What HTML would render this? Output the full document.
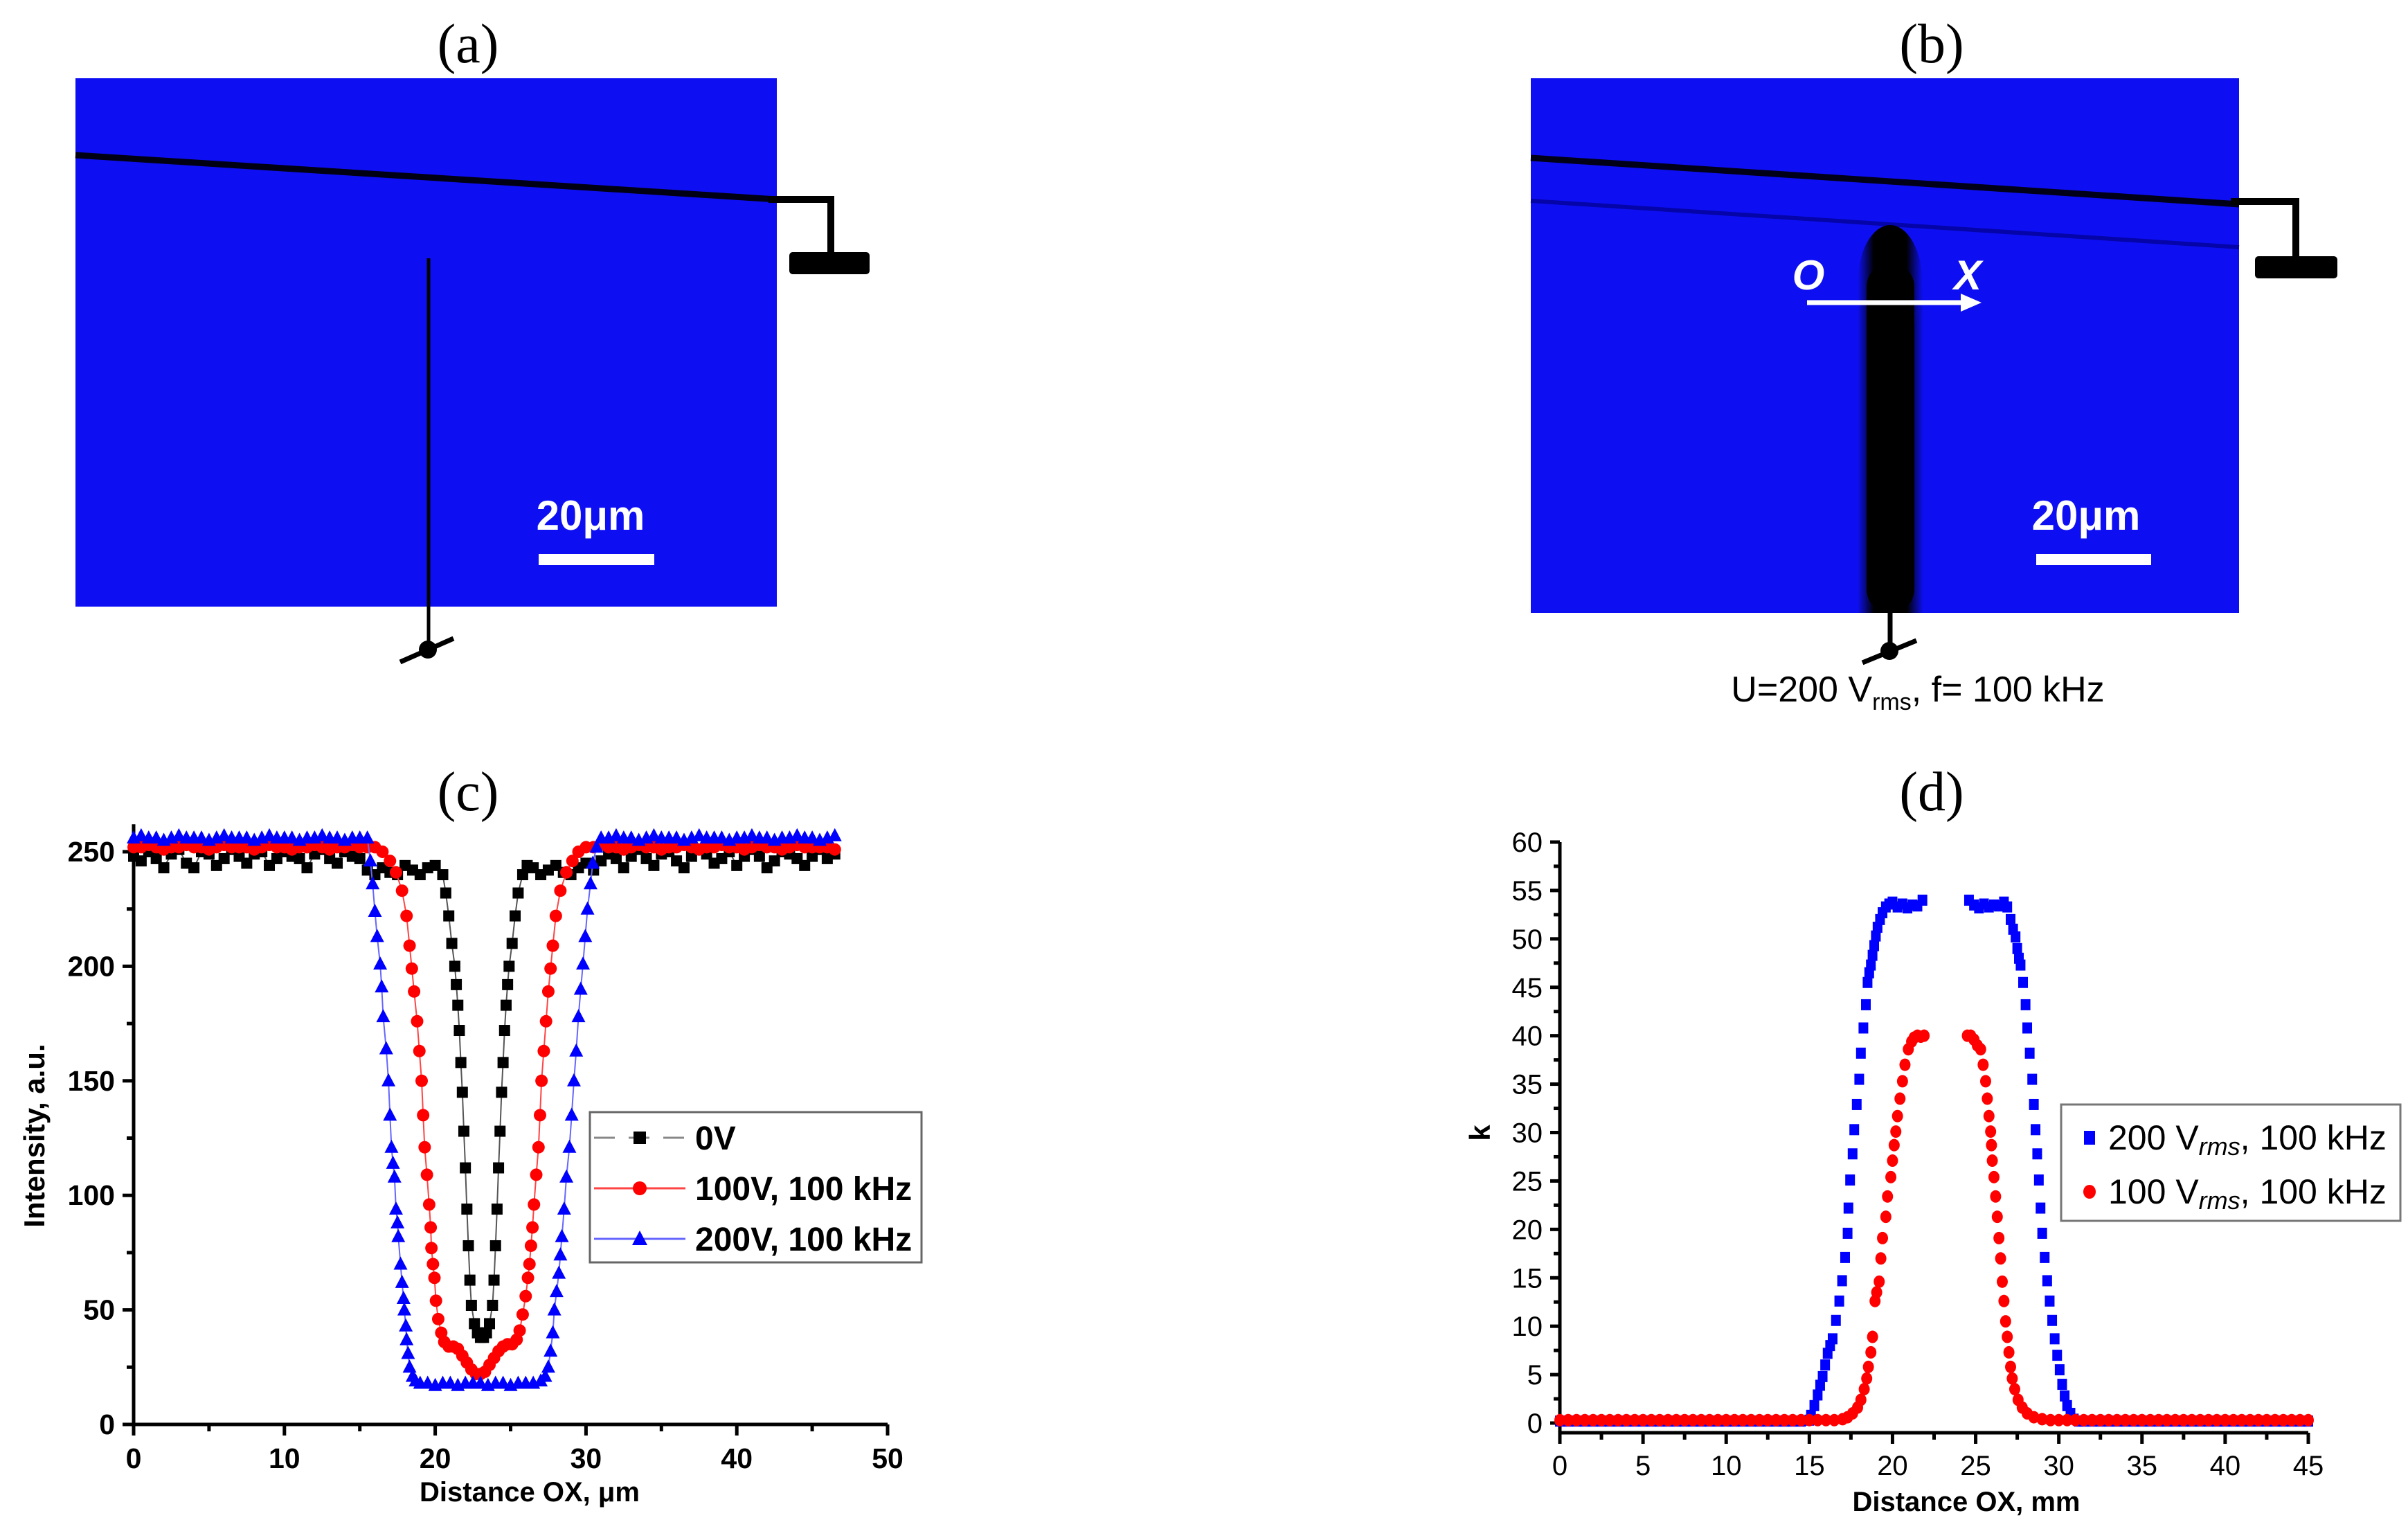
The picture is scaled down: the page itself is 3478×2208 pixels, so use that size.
<!DOCTYPE html>
<html><head><meta charset="utf-8"><style>
html,body{margin:0;padding:0;background:#fff;}
svg{display:block;}
</style></head><body>
<svg id="fig" xmlns="http://www.w3.org/2000/svg" width="3478" height="2208" viewBox="0 0 3478 2208">
<defs>
<linearGradient id="band" x1="0" x2="1" y1="0" y2="0">
<stop offset="0" stop-color="#0d0ff2"/><stop offset="0.25" stop-color="#000"/><stop offset="0.75" stop-color="#000"/><stop offset="1" stop-color="#0d0ff2"/>
</linearGradient>
</defs>
<g font-family="Liberation Serif, serif" font-size="80" text-anchor="middle" fill="#000">
<text x="676" y="90">(a)</text>
<text x="2790" y="90">(b)</text>
<text x="676" y="1170">(c)</text>
<text x="2790" y="1170">(d)</text>
</g>
<!-- image a -->
<g>
<rect x="109" y="113" width="1013" height="763" fill="#0d0ff2"/>
<line x1="109" y1="224" x2="1122" y2="288" stroke="#000014" stroke-width="9"/>
<polyline points="1110,288 1200,288 1200,368" fill="none" stroke="#000" stroke-width="10"/>
<rect x="1140" y="364" width="116" height="32" rx="5" fill="#000"/>
<line x1="619" y1="373" x2="619" y2="932" stroke="#000" stroke-width="5"/>
<circle cx="618" cy="938" r="13" fill="#000"/>
<line x1="578" y1="956" x2="655" y2="922" stroke="#000" stroke-width="7"/>
<text x="853" y="765" font-family="Liberation Sans, sans-serif" font-weight="bold" font-size="60" fill="#fff" text-anchor="middle">20μm</text>
<rect x="778" y="800" width="167" height="16" fill="#fff"/>
</g>
<!-- image b -->
<g>
<rect x="2211" y="113" width="1023" height="772" fill="#0d0ff2"/>
<line x1="2211" y1="228" x2="3234" y2="295" stroke="#000018" stroke-width="9"/>
<line x1="2211" y1="290" x2="3234" y2="357" stroke="#0404a8" stroke-width="6"/>
<polyline points="3222,291 3316,291 3316,372" fill="none" stroke="#000" stroke-width="10"/>
<rect x="3257" y="370" width="119" height="32" rx="5" fill="#000"/>
<rect x="2683" y="400" width="95" height="485" fill="url(#band)"/>
<ellipse cx="2730" cy="410" rx="47" ry="85" fill="url(#band)"/>
<rect x="2696" y="380" width="69" height="505" rx="34" fill="#000"/>
<text x="2612" y="418" font-family="Liberation Sans, sans-serif" font-weight="bold" font-style="italic" font-size="60" fill="#fff" text-anchor="middle">O</text>
<text x="2842" y="418" font-family="Liberation Sans, sans-serif" font-weight="bold" font-style="italic" font-size="60" fill="#fff" text-anchor="middle">X</text>
<line x1="2610" y1="437" x2="2840" y2="437" stroke="#fff" stroke-width="7"/>
<polygon points="2862,437 2832,424 2832,450" fill="#fff"/>
<text x="3013" y="765" font-family="Liberation Sans, sans-serif" font-weight="bold" font-size="60" fill="#fff" text-anchor="middle">20μm</text>
<rect x="2941" y="800" width="166" height="16" fill="#fff"/>
<line x1="2730" y1="885" x2="2730" y2="935" stroke="#000" stroke-width="7"/>
<circle cx="2729" cy="940" r="13" fill="#000"/>
<line x1="2690" y1="957" x2="2768" y2="925" stroke="#000" stroke-width="7"/>
<text x="2770" y="1013" font-family="Liberation Sans, sans-serif" font-size="52" fill="#000" text-anchor="middle">U=200 V<tspan font-size="34" dy="12">rms</tspan><tspan dy="-12">, f= 100 kHz</tspan></text>
</g>
<g id="chartC"></g>
<g id="chartD"></g>
</svg>
<script>
// ===== Chart (c) data =====
const cBlackX=[0,0.5,1,1.5,2,2.5,3,3.5,4,4.5,5,5.5,6,6.5,7,7.5,8,8.5,9,9.5,10,10.5,11,11.5,12,12.5,13,13.5,14,14.5,15,15.5,16,16.5,17,17.5,18,18.5,19,19.5,20,20.5,20.7,20.9,21.1,21.3,21.4,21.5,21.6,21.7,21.8,21.9,22.0,22.1,22.2,22.3,22.4,22.6,22.8,23.0,23.2,23.4,23.6,23.8,23.9,24.0,24.1,24.2,24.3,24.4,24.5,24.6,24.7,24.8,24.9,25.1,25.3,25.5,25.8,26.1,26.5,27,27.5,28,28.5,29,29.5,30,30.5,31,31.5,32,32.5,33,33.5,34,34.5,35,35.5,36,36.5,37,37.5,38,38.5,39,39.5,40,40.5,41,41.5,42,42.5,43,43.5,44,44.5,45,45.5,46,46.5];
const cBlackY=[248,246,250,247,243,249,251,245,243,250,249,244,247,251,248,245,249,250,244,247,250,248,247,243,249,251,247,245,250,248,247,242,240,243,241,240,244,242,240,243,244,240,232,222,210,200,192,183,172,158,145,128,112,94,78,63,52,44,40,38,38,40,44,52,63,78,94,112,128,145,158,172,183,192,200,210,222,232,240,244,243,240,242,244,241,240,243,245,242,246,249,247,243,248,251,247,244,249,250,246,243,248,251,249,245,247,250,244,248,251,248,243,246,250,249,247,244,248,251,247,249];
const cRedX=[0,0.5,1,1.5,2,2.5,3,3.5,4,4.5,5,5.5,6,6.5,7,7.5,8,8.5,9,9.5,10,10.5,11,11.5,12,12.5,13,13.5,14,14.5,15,15.5,16,16.5,17,17.4,17.8,18.1,18.3,18.45,18.6,18.8,18.95,19.1,19.2,19.3,19.45,19.6,19.7,19.75,19.85,19.95,20.05,20.2,20.4,20.6,20.9,21.2,21.5,21.8,22.1,22.4,22.7,23.0,23.3,23.6,23.9,24.2,24.5,24.8,25.1,25.4,25.6,25.8,26.0,26.15,26.25,26.35,26.45,26.55,26.7,26.85,26.95,27.05,27.2,27.35,27.5,27.65,27.8,28.0,28.3,28.7,29.1,29.5,30,30.5,31,31.5,32,32.5,33,33.5,34,34.5,35,35.5,36,36.5,37,37.5,38,38.5,39,39.5,40,40.5,41,41.5,42,42.5,43,43.5,44,44.5,45,45.5,46,46.5];
const cRedY=[252,252,253,252,251,252,252,253,252,252,251,252,253,252,252,252,251,252,253,252,252,251,252,252,253,252,251,252,252,253,252,252,252,250,246,241,233,222,209,199,189,176,163,150,135,121,109,96,86,77,70,64,54,46,40,36,34,34,33,30,27,24,22,22,23,26,29,32,34,35,35,37,41,48,56,64,70,78,86,96,109,121,135,150,163,176,189,199,209,222,233,241,246,250,252,252,253,252,252,251,252,253,252,252,251,252,252,253,252,251,252,252,253,252,252,251,252,253,252,252,251,252,253,252,252,252,252,251];
const cBlueX=[0,0.5,1,1.5,2,2.5,3,3.5,4,4.5,5,5.5,6,6.5,7,7.5,8,8.5,9,9.5,10,10.5,11,11.5,12,12.5,13,13.5,14,14.5,15,15.5,15.7,15.85,16.0,16.15,16.35,16.45,16.55,16.75,16.9,17.0,17.1,17.2,17.3,17.4,17.5,17.55,17.7,17.8,17.9,17.95,18.05,18.1,18.2,18.3,18.5,18.7,19,19.5,20,20.5,21,21.5,22,22.5,23,23.5,24,24.5,25,25.5,26,26.5,27,27.3,27.5,27.65,27.8,27.9,28.05,28.2,28.3,28.4,28.55,28.7,28.9,29.05,29.2,29.35,29.5,29.65,29.8,29.95,30.1,30.3,30.45,30.7,31.0,31.5,32,32.5,33,33.5,34,34.5,35,35.5,36,36.5,37,37.5,38,38.5,39,39.5,40,40.5,41,41.5,42,42.5,43,43.5,44,44.5,45,45.5,46,46.5];
const cBlueY=[256,257,256,256,255,256,257,256,256,256,255,256,257,256,256,256,255,256,257,256,256,256,255,256,256,257,256,256,255,256,256,256,246,236,224,213,201,191,178,164,150,135,121,114,108,94,88,82,70,62,55,50,43,37,31,25,21,19,18,18,17,18,18,17,18,18,18,17,18,18,17,18,18,18,19,21,25,32,40,50,58,66,74,82,94,108,121,135,150,163,178,190,201,213,225,236,245,252,256,256,257,256,256,255,256,257,256,256,256,255,256,257,256,256,256,255,256,256,257,256,256,255,256,256,257,256,256,255,256,257];
const cXTicks=[0,10,20,30,40,50];
const cYTicks=[0,50,100,150,200,250];
const cLegend=["0V","100V, 100 kHz","200V, 100 kHz"];

// ===== Chart (d) data =====
const dBlueX=[0,0.5,1,1.5,2,2.5,3,3.5,4,4.5,5,5.5,6,6.5,7,7.5,8,8.5,9,9.5,10,10.5,11,11.5,12,12.5,13,13.5,14,14.5,15,15.1,15.3,15.5,15.65,15.8,15.95,16.1,16.25,16.4,16.6,16.8,16.97,17.15,17.3,17.35,17.45,17.6,17.7,17.85,18.0,18.1,18.25,18.4,18.5,18.6,18.7,18.8,18.9,19.0,19.1,19.25,19.4,19.6,19.8,20.0,20.3,20.6,20.9,21.2,21.5,21.8,24.6,24.9,25.2,25.5,25.8,26.1,26.4,26.7,26.9,27.1,27.25,27.4,27.5,27.6,27.7,27.85,28.0,28.1,28.25,28.4,28.5,28.6,28.7,28.8,28.9,29.0,29.15,29.3,29.45,29.6,29.75,29.9,30.05,30.2,30.35,30.5,30.7,30.9,31.2,31.5,32,32.5,33,33.5,34,34.5,35,35.5,36,36.5,37,37.5,38,38.5,39,39.5,40,40.5,41,41.5,42,42.5,43,43.5,44,44.5,45];
const dBlueY=[0.2,0.2,0.2,0.2,0.2,0.2,0.2,0.2,0.2,0.2,0.2,0.2,0.2,0.2,0.2,0.2,0.2,0.2,0.2,0.2,0.2,0.2,0.2,0.2,0.2,0.2,0.2,0.2,0.2,0.2,0.3,0.8,1.8,2.9,3.9,4.8,6,7.2,8,8.7,10.6,12.6,14.7,17.1,19.6,22.2,25.1,27.8,30.3,32.9,35.5,38.2,40.8,43.2,45.5,46.5,47.3,48.3,49.3,50.3,51.2,52,52.7,53.3,53.6,53.8,53.3,53.6,53.2,53.5,53.4,54,54,53.5,53.2,53.6,53.3,53.5,53.4,53.8,53.3,52,51,50.2,49,48,47.3,45.5,43.2,40.8,38.2,35.5,32.9,30.3,27.8,25.1,22.2,19.6,17.1,14.7,12.6,10.6,8.7,7,5.5,4,2.8,1.8,1,0.4,0.2,0.2,0.2,0.2,0.2,0.2,0.2,0.2,0.2,0.2,0.2,0.2,0.2,0.2,0.2,0.2,0.2,0.2,0.2,0.2,0.2,0.2,0.2,0.2,0.2,0.2,0.2,0.2,0.2,0.2];
const dRedX=[0,0.5,1,1.5,2,2.5,3,3.5,4,4.5,5,5.5,6,6.5,7,7.5,8,8.5,9,9.5,10,10.5,11,11.5,12,12.5,13,13.5,14,14.5,15,15.5,16,16.5,17,17.3,17.6,17.9,18.1,18.3,18.45,18.55,18.7,18.8,18.95,19.05,19.2,19.3,19.4,19.6,19.7,19.9,20.0,20.1,20.2,20.3,20.45,20.6,20.75,20.95,21.15,21.3,21.5,21.7,21.9,24.5,24.7,24.9,25.1,25.3,25.45,25.6,25.7,25.8,25.9,25.95,26.0,26.1,26.2,26.3,26.4,26.5,26.6,26.7,26.8,26.9,27.0,27.1,27.2,27.35,27.55,27.8,28.1,28.5,29,29.5,30,30.5,31,31.5,32,32.5,33,33.5,34,34.5,35,35.5,36,36.5,37,37.5,38,38.5,39,39.5,40,40.5,41,41.5,42,42.5,43,43.5,44,44.5,45];
const dRedY=[0.3,0.3,0.3,0.3,0.3,0.3,0.3,0.3,0.3,0.3,0.3,0.3,0.3,0.3,0.3,0.3,0.3,0.3,0.3,0.3,0.3,0.3,0.3,0.3,0.3,0.3,0.3,0.3,0.3,0.3,0.3,0.3,0.3,0.3,0.4,0.6,1,1.6,2.4,3.5,4.6,5.8,7.3,8.9,12.6,13.5,14.6,17,19.1,21.3,23.4,25.4,27.1,28.7,30.1,31.7,33.5,35.3,37,38.6,39.4,39.8,40,39.9,40,40,40,39.6,39,38.6,37,35.3,33.5,31.7,30.1,28.7,27.1,25.4,23.4,21.3,19.1,17,14.6,12.6,10.5,8.9,7.3,5.8,4.6,3.5,2.4,1.6,1,0.6,0.4,0.3,0.3,0.3,0.3,0.3,0.3,0.3,0.3,0.3,0.3,0.3,0.3,0.3,0.3,0.3,0.3,0.3,0.3,0.3,0.3,0.3,0.3,0.3,0.3,0.3,0.3,0.3,0.3,0.3,0.3,0.3,0.3];
const dXTicks=[0,5,10,15,20,25,30,35,40,45];
const dYTicks=[0,5,10,15,20,25,30,35,40,45,50,55,60];

const NS="http://www.w3.org/2000/svg";
function mk(parent,tag,attrs,text){const e=document.createElementNS(NS,tag);for(const k in attrs)e.setAttribute(k,attrs[k]);if(text!==undefined)e.textContent=text;parent.appendChild(e);return e;}

// ----- chart c -----
(function(){
const g=document.getElementById('chartC');
const X0=193,X1=1282,Y0=2057,Y1=1230;
const sx=v=>X0+(v-0)/(50-0)*(X1-X0);
const sy=v=>Y0-(v-0)/(250-0)*(Y0-Y1);
const ax=mk(g,'g',{stroke:'#000','stroke-width':5,fill:'none'});


mk(ax,'line',{x1:X0,y1:Y0,x2:X1,y2:Y0});
mk(ax,'line',{x1:X0,y1:Y0,x2:X0,y2:sy(262)});
for(let v=0;v<=50;v+=5){const big=v%10===0;mk(ax,'line',{x1:sx(v),y1:Y0,x2:sx(v),y2:Y0+(big?16:10)});}
for(let v=0;v<=250;v+=25){const big=v%50===0;mk(ax,'line',{x1:X0,y1:sy(v),x2:X0-(big?16:10),y2:sy(v)});}
const tl=mk(g,'g',{'font-family':'Liberation Sans, sans-serif','font-weight':'bold','font-size':41,fill:'#000'});
cXTicks.forEach(v=>{const t=mk(tl,'text',{x:sx(v),y:2120,'text-anchor':'middle'},String(v));

});
cYTicks.forEach(v=>{const t=mk(tl,'text',{x:166,y:sy(v)+14,'text-anchor':'end'},String(v));

});
const xt=mk(g,'text',{x:765,y:2168,'text-anchor':'middle','font-family':'Liberation Sans, sans-serif','font-weight':'bold','font-size':40},'Distance OX, μm');


const yt=mk(g,'text',{x:0,y:0,transform:'translate(64,1640) rotate(-90)','text-anchor':'middle','font-family':'Liberation Sans, sans-serif','font-weight':'bold','font-size':42},'Intensity, a.u.');


function series(xs,ys,color,lineColor,shape,name){
  const n=Math.min(xs.length,ys.length);
  const sg=mk(g,'g',{});
  
  
  const pts=[];for(let i=0;i<n;i++)pts.push(sx(xs[i])+','+sy(ys[i]));
  mk(sg,'polyline',{points:pts.join(' '),fill:'none',stroke:lineColor,'stroke-width':2});
  for(let i=0;i<n;i++){const cx=sx(xs[i]),cy=sy(ys[i]);let m;
    if(shape==='sq')m=mk(sg,'rect',{x:cx-8,y:cy-8,width:16,height:16,fill:color});
    else if(shape==='ci')m=mk(sg,'circle',{cx:cx,cy:cy,r:9,fill:color});
    else m=mk(sg,'polygon',{points:`${cx},${cy-11} ${cx-10},${cy+8} ${cx+10},${cy+8}`,fill:color});
    
    }
}
series(cBlackX,cBlackY,'#000','#555','sq','series-0v');
series(cRedX,cRedY,'#f00','#f44','ci','series-100v');
series(cBlueX,cBlueY,'#00f','#66f','tr','series-200v');
const lg=mk(g,'g',{});


mk(lg,'rect',{x:852,y:1606,width:479,height:217,fill:'#fff',stroke:'#666','stroke-width':3});
const cols=['#000','#f00','#00f'],lcols=['#888','#f44','#66f'],shp=['sq','ci','tr'];
cLegend.forEach((lab,i)=>{const y=1643+i*73;
  const e=mk(lg,'g',{});
  
  
  mk(e,'line',{x1:858,y1:y,x2:990,y2:y,stroke:lcols[i],'stroke-width':3,'stroke-dasharray':i===0?'30,20,0,0':''});
  const cx=924;
  if(shp[i]==='sq')mk(e,'rect',{x:cx-9,y:y-9,width:18,height:18,fill:cols[i]});
  else if(shp[i]==='ci')mk(e,'circle',{cx:cx,cy:y,r:10,fill:cols[i]});
  else mk(e,'polygon',{points:`${cx},${y-12} ${cx-11},${y+9} ${cx+11},${y+9}`,fill:cols[i]});
  mk(e,'text',{x:1004,y:y+17,'font-family':'Liberation Sans, sans-serif','font-weight':'bold','font-size':48,fill:'#000'},lab);
});
})();

// ----- chart d -----
(function(){
const g=document.getElementById('chartD');
const X0=2253,X1=3334,Y0=2055,Y1=1216;
const sx=v=>X0+(v-0)/(45-0)*(X1-X0);
const sy=v=>Y0-(v-0)/(60-0)*(Y0-Y1);
const AX=sy(-1);
const ax=mk(g,'g',{stroke:'#000','stroke-width':5,fill:'none'});


mk(ax,'line',{x1:X0,y1:AX,x2:X1,y2:AX});
mk(ax,'line',{x1:X0,y1:AX,x2:X0,y2:sy(60)});
for(let v=0;v<=45;v+=2.5){const big=v%5===0;mk(ax,'line',{x1:sx(v),y1:AX,x2:sx(v),y2:AX+(big?16:10)});}
for(let v=0;v<=60;v+=2.5){const big=v%5===0;mk(ax,'line',{x1:X0,y1:sy(v),x2:X0-(big?14:9),y2:sy(v)});}
const tl=mk(g,'g',{'font-family':'Liberation Sans, sans-serif','font-size':40,fill:'#000'});
dXTicks.forEach(v=>{const t=mk(tl,'text',{x:sx(v),y:2130,'text-anchor':'middle'},String(v));

});
dYTicks.forEach(v=>{const t=mk(tl,'text',{x:2228,y:sy(v)+14,'text-anchor':'end'},String(v));

});
const xt=mk(g,'text',{x:2840,y:2182,'text-anchor':'middle','font-family':'Liberation Sans, sans-serif','font-weight':'bold','font-size':40},'Distance OX, mm');


const yt=mk(g,'text',{x:0,y:0,transform:'translate(2152,1636) rotate(-90)','text-anchor':'middle','font-family':'Liberation Sans, sans-serif','font-weight':'bold','font-size':42},'k');


function series(xs,ys,color,shape,name){
  const n=Math.min(xs.length,ys.length);
  const sg=mk(g,'g',{});
  
  
  for(let i=0;i<n;i++){const cx=sx(xs[i]),cy=sy(ys[i]);let m;
    if(shape==='sq')m=mk(sg,'rect',{x:cx-7,y:cy-8,width:14,height:16,fill:color});
    else m=mk(sg,'ellipse',{cx:cx,cy:cy,rx:8,ry:9,fill:color});
    
    }
}
series(dBlueX,dBlueY,'#00f','sq','series-200vrms');
series(dRedX,dRedY,'#f00','ci','series-100vrms');
const lg=mk(g,'g',{});


mk(lg,'rect',{x:2977,y:1595,width:490,height:168,fill:'#fff',stroke:'#777','stroke-width':3});
const labs=[['200 V','rms',', 100 kHz'],['100 V','rms',', 100 kHz']];
const cols=['#00f','#f00'];
labs.forEach((l,i)=>{const y=1643+i*78;
  const e=mk(lg,'g',{});
  
  
  if(i===0)mk(e,'rect',{x:3010,y:y-10,width:16,height:20,fill:cols[i]});
  else mk(e,'ellipse',{cx:3018,cy:y,rx:9,ry:10,fill:cols[i]});
  const t=mk(e,'text',{x:3045,y:y+17,'font-family':'Liberation Sans, sans-serif','font-size':50,fill:'#000'});
  mk(t,'tspan',{},l[0]);
  mk(t,'tspan',{'font-style':'italic','font-size':36,dy:8},l[1]);
  mk(t,'tspan',{dy:-8},l[2]);
});
})();
</script>
</body></html>
